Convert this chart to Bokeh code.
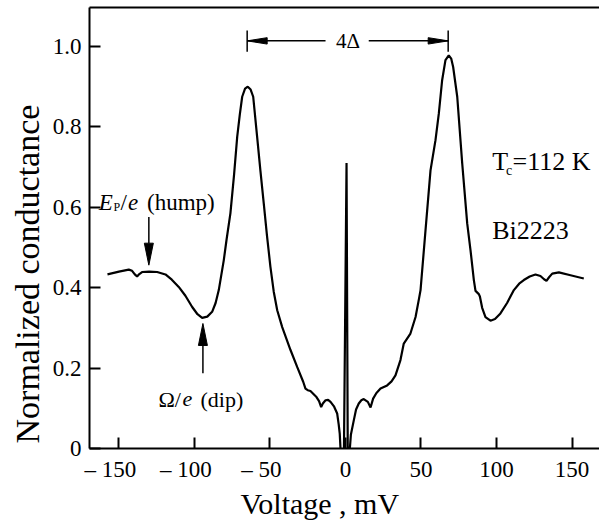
from bokeh.plotting import figure
from bokeh.models import FixedTicker, LinearAxis, Label, Range1d, Title
from bokeh.embed import file_html
from bokeh.resources import INLINE

# ---------------- data ----------------
voltage_mV = [
    -157.6, -150.0, -143.5, -141.3, -139.5, -138.0, -136.5, -134.7, -130.0, -124.7,
    -119.2, -115.0, -110.4, -106.0, -101.5, -98.0, -94.9, -91.5, -88.3, -86.0,
    -83.9, -80.6, -78.8, -76.2, -73.8, -71.7, -70.0, -68.4, -66.5, -64.7,
    -62.8, -61.1, -58.5, -56.3, -54.1, -52.0, -49.7, -47.5, -45.2, -41.9,
    -36.4, -32.0, -28.0, -26.5, -25.0, -23.2, -19.2, -17.5, -16.1, -15.0,
    -13.2, -11.5, -9.9, -7.5, -5.5, -4.5, -3.8, -3.3, -2.6, -1.6,
    -1.0, 0.7, 1.5, 2.0, 2.5, 2.9, 3.6, 5.5, 7.0, 8.8,
    10.5, 12.1, 14.8, 16.6, 18.3, 20.5, 23.2, 27.6, 30.5, 33.1,
    36.4, 38.6, 43.0, 46.4, 48.5, 49.7, 53.0, 56.3, 59.6, 61.8,
    64.0, 66.2, 68.4, 70.0, 71.3, 74.0, 77.3, 80.6, 82.8, 85.0,
    86.1, 88.3, 89.0, 90.5, 92.7, 96.0, 99.0, 102.6, 107.0, 111.5,
    115.0, 118.1, 122.0, 125.8, 129.1, 131.5, 133.1, 134.8, 136.9, 141.3,
    149.0, 157.8,
]
conductance = [
    0.433, 0.440, 0.445, 0.442, 0.433, 0.428, 0.434, 0.439, 0.440, 0.439,
    0.433, 0.420, 0.402, 0.380, 0.352, 0.334, 0.325, 0.328, 0.340, 0.362,
    0.394, 0.468, 0.518, 0.585, 0.680, 0.775, 0.830, 0.875, 0.895, 0.900,
    0.893, 0.875, 0.775, 0.690, 0.609, 0.530, 0.452, 0.390, 0.344, 0.302,
    0.245, 0.203, 0.166, 0.149, 0.145, 0.143, 0.128, 0.118, 0.103, 0.112,
    0.120, 0.121, 0.116, 0.104, 0.087, 0.060, 0.037, 0.000, -0.050, -0.050,
    0.000, 0.710, 0.000, -0.050, -0.050, 0.000, 0.035, 0.070, 0.097, 0.112,
    0.120, 0.123, 0.116, 0.102, 0.124, 0.138, 0.149, 0.157, 0.167, 0.182,
    0.220, 0.261, 0.286, 0.327, 0.369, 0.394, 0.543, 0.692, 0.767, 0.833,
    0.916, 0.966, 0.978, 0.970, 0.949, 0.875, 0.709, 0.560, 0.493, 0.419,
    0.392, 0.384, 0.378, 0.350, 0.327, 0.318, 0.322, 0.336, 0.362, 0.394,
    0.410, 0.419, 0.428, 0.433, 0.429, 0.421, 0.417, 0.426, 0.435, 0.438,
    0.431, 0.423,
]

NB = "\u00a0"
x_ticks = [-150, -100, -50, 0, 50, 100, 150]
x_tick_labels = ["\u2013 150" + NB * 3, "\u2013 100" + NB * 3, "\u2013 50" + NB * 3,
                 "0", "50", "100", "150"]
y_ticks = [0, 0.2, 0.4, 0.6, 0.8, 1.0]
y_tick_labels = ["0", "0.2", "0.4", "0.6", "0.8", "1.0"]

x_title = "Voltage , mV"
y_title = "Normalized conductance"

# annotation anchors (data units)
gap_peaks_mV = [-65.1, 68.0]          # 4Δ marker ends (coherence peaks)
gap_level = 1.014
gap_marker_span = [0.987, 1.040]
gap_text_gap_mV = [-13.2, 15.4]       # where the dimension line breaks for the text
gap_text_mV = 1.7
hump_mV = -130.2
hump_arrow = [0.576, 0.456]           # from, tip
dip_mV = -94.4
dip_arrow = [0.187, 0.311]            # from, tip

X0, X1 = -169.5, 168.2
Y0, Y1 = 0.0, 1.097

W, H = 599, 523
ML, MR, MT = 89, 0, 7
MB = 75
FW = W - ML - MR
FH = H - MT - MB
sx = FW / (X1 - X0)   # px per mV
sy = FH / (Y1 - Y0)   # px per unit conductance

SERIF = "Liberation Serif"

p = figure(width=W, height=H, output_backend="svg", toolbar_location=None,
           x_range=Range1d(X0, X1), y_range=Range1d(Y0, Y1),
           min_border_left=ML, min_border_right=MR, min_border_top=MT,
           min_border_bottom=MB)
p.background_fill_color = "white"
p.border_fill_color = "white"
p.outline_line_color = None
p.grid.visible = False

for ax in (p.xaxis[0], p.yaxis[0]):
    ax.axis_line_width = 2
    ax.axis_line_color = "black"
    ax.major_tick_line_width = 2
    ax.major_tick_line_color = "black"
    ax.major_tick_in = 11
    ax.major_tick_out = 0
    ax.minor_tick_line_color = None
    ax.major_label_text_font = SERIF
    ax.major_label_text_font_size = "23px"
    ax.major_label_text_color = "black"

p.xaxis[0].ticker = FixedTicker(ticks=x_ticks)
p.xaxis[0].major_label_overrides = dict(zip(x_ticks, x_tick_labels))
p.xaxis[0].major_label_standoff = 8

p.yaxis[0].ticker = FixedTicker(ticks=y_ticks)
p.yaxis[0].major_label_overrides = dict(zip(y_ticks, y_tick_labels))
p.yaxis[0].major_label_standoff = 8

top = LinearAxis(ticker=FixedTicker(ticks=[]), axis_line_width=2,
                 major_tick_line_color=None, minor_tick_line_color=None,
                 major_tick_out=0, major_tick_in=0, major_label_standoff=0,
                 major_label_text_font_size="0px")
p.add_layout(top, "above")

# axis titles as side titles (offset like the original)
p.add_layout(Title(text=y_title, align="left", offset=5, text_font=SERIF,
                   text_font_size="34px", text_font_style="normal",
                   text_color="black", standoff=8), "left")
p.add_layout(Title(text=x_title, align="left", offset=151, text_font=SERIF,
                   text_font_size="30px", text_font_style="normal",
                   text_color="black", standoff=1), "below")

# curve
p.line(voltage_mV, conductance, line_color="black", line_width=2.2)

# ---- 4Δ dimension marker ----
for v in gap_peaks_mV:
    p.segment(x0=[v], y0=[gap_marker_span[0]], x1=[v], y1=[gap_marker_span[1]],
              line_color="black", line_width=1.5)
p.segment(x0=[gap_peaks_mV[0], gap_text_gap_mV[1]], y0=[gap_level, gap_level],
          x1=[gap_text_gap_mV[0], gap_peaks_mV[1]], y1=[gap_level, gap_level],
          line_color="black", line_width=1.5)
hl, hw = 20 / sx, 3.2 / sy
p.patches(xs=[[gap_peaks_mV[0], gap_peaks_mV[0] + hl, gap_peaks_mV[0] + hl],
              [gap_peaks_mV[1], gap_peaks_mV[1] - hl, gap_peaks_mV[1] - hl]],
          ys=[[gap_level, gap_level + hw, gap_level - hw],
              [gap_level, gap_level + hw, gap_level - hw]],
          fill_color="black", line_color="black", line_width=1)
p.add_layout(Label(x=gap_text_mV, y=gap_level, text="4\u0394", text_font=SERIF,
                   text_font_size="21px", text_align="center",
                   text_baseline="middle", text_color="black"))

# ---- hump arrow (pointing down) ----
al, aw = 22 / sy, 4.5 / sx
p.segment(x0=[hump_mV], y0=[hump_arrow[0]], x1=[hump_mV], y1=[hump_arrow[1] + al],
          line_color="black", line_width=1.5)
p.patches(xs=[[hump_mV, hump_mV - aw, hump_mV + aw]],
          ys=[[hump_arrow[1], hump_arrow[1] + al, hump_arrow[1] + al]],
          fill_color="black", line_color="black", line_width=1)

# ---- dip arrow (pointing up) ----
p.segment(x0=[dip_mV], y0=[dip_arrow[0]], x1=[dip_mV], y1=[dip_arrow[1] - al],
          line_color="black", line_width=1.5)
p.patches(xs=[[dip_mV, dip_mV - aw, dip_mV + aw]],
          ys=[[dip_arrow[1], dip_arrow[1] - al, dip_arrow[1] - al]],
          fill_color="black", line_color="black", line_width=1)

# ---- texts ----
def lab(x, y, t, size, style="normal"):
    p.add_layout(Label(x=x, y=y, text=t, text_font=SERIF, text_font_size=size,
                       text_font_style=style, text_align="left",
                       text_baseline="alphabetic", text_color="black"))

# E_P/e (hump)
hump_base = 0.613
lab(-163.4, hump_base, "E", "23px", "italic")
lab(-153.6, hump_base - 0.013, "P", "12px")
lab(-149.0, hump_base, "/", "23px")
lab(-144.0, hump_base, "e", "23px", "italic")
lab(-131.4, hump_base, "(hump)", "23px")

# Ω/e (dip)
dip_base = 0.122
lab(-123.8, dip_base, "\u03a9/", "22px")
lab(-108.0, dip_base, "e", "22px", "italic")
lab(-96.0, dip_base, "(dip)", "22px")

# T_c = 112 K, Bi2223
lab(97.2, 0.713, "T", "26px")
lab(106.3, 0.692, "c", "14px")
lab(110.6, 0.713, "=112 K", "26px")
lab(97.2, 0.543, "Bi2223", "26px")

open("out.html", "w").write(file_html(p, INLINE))
